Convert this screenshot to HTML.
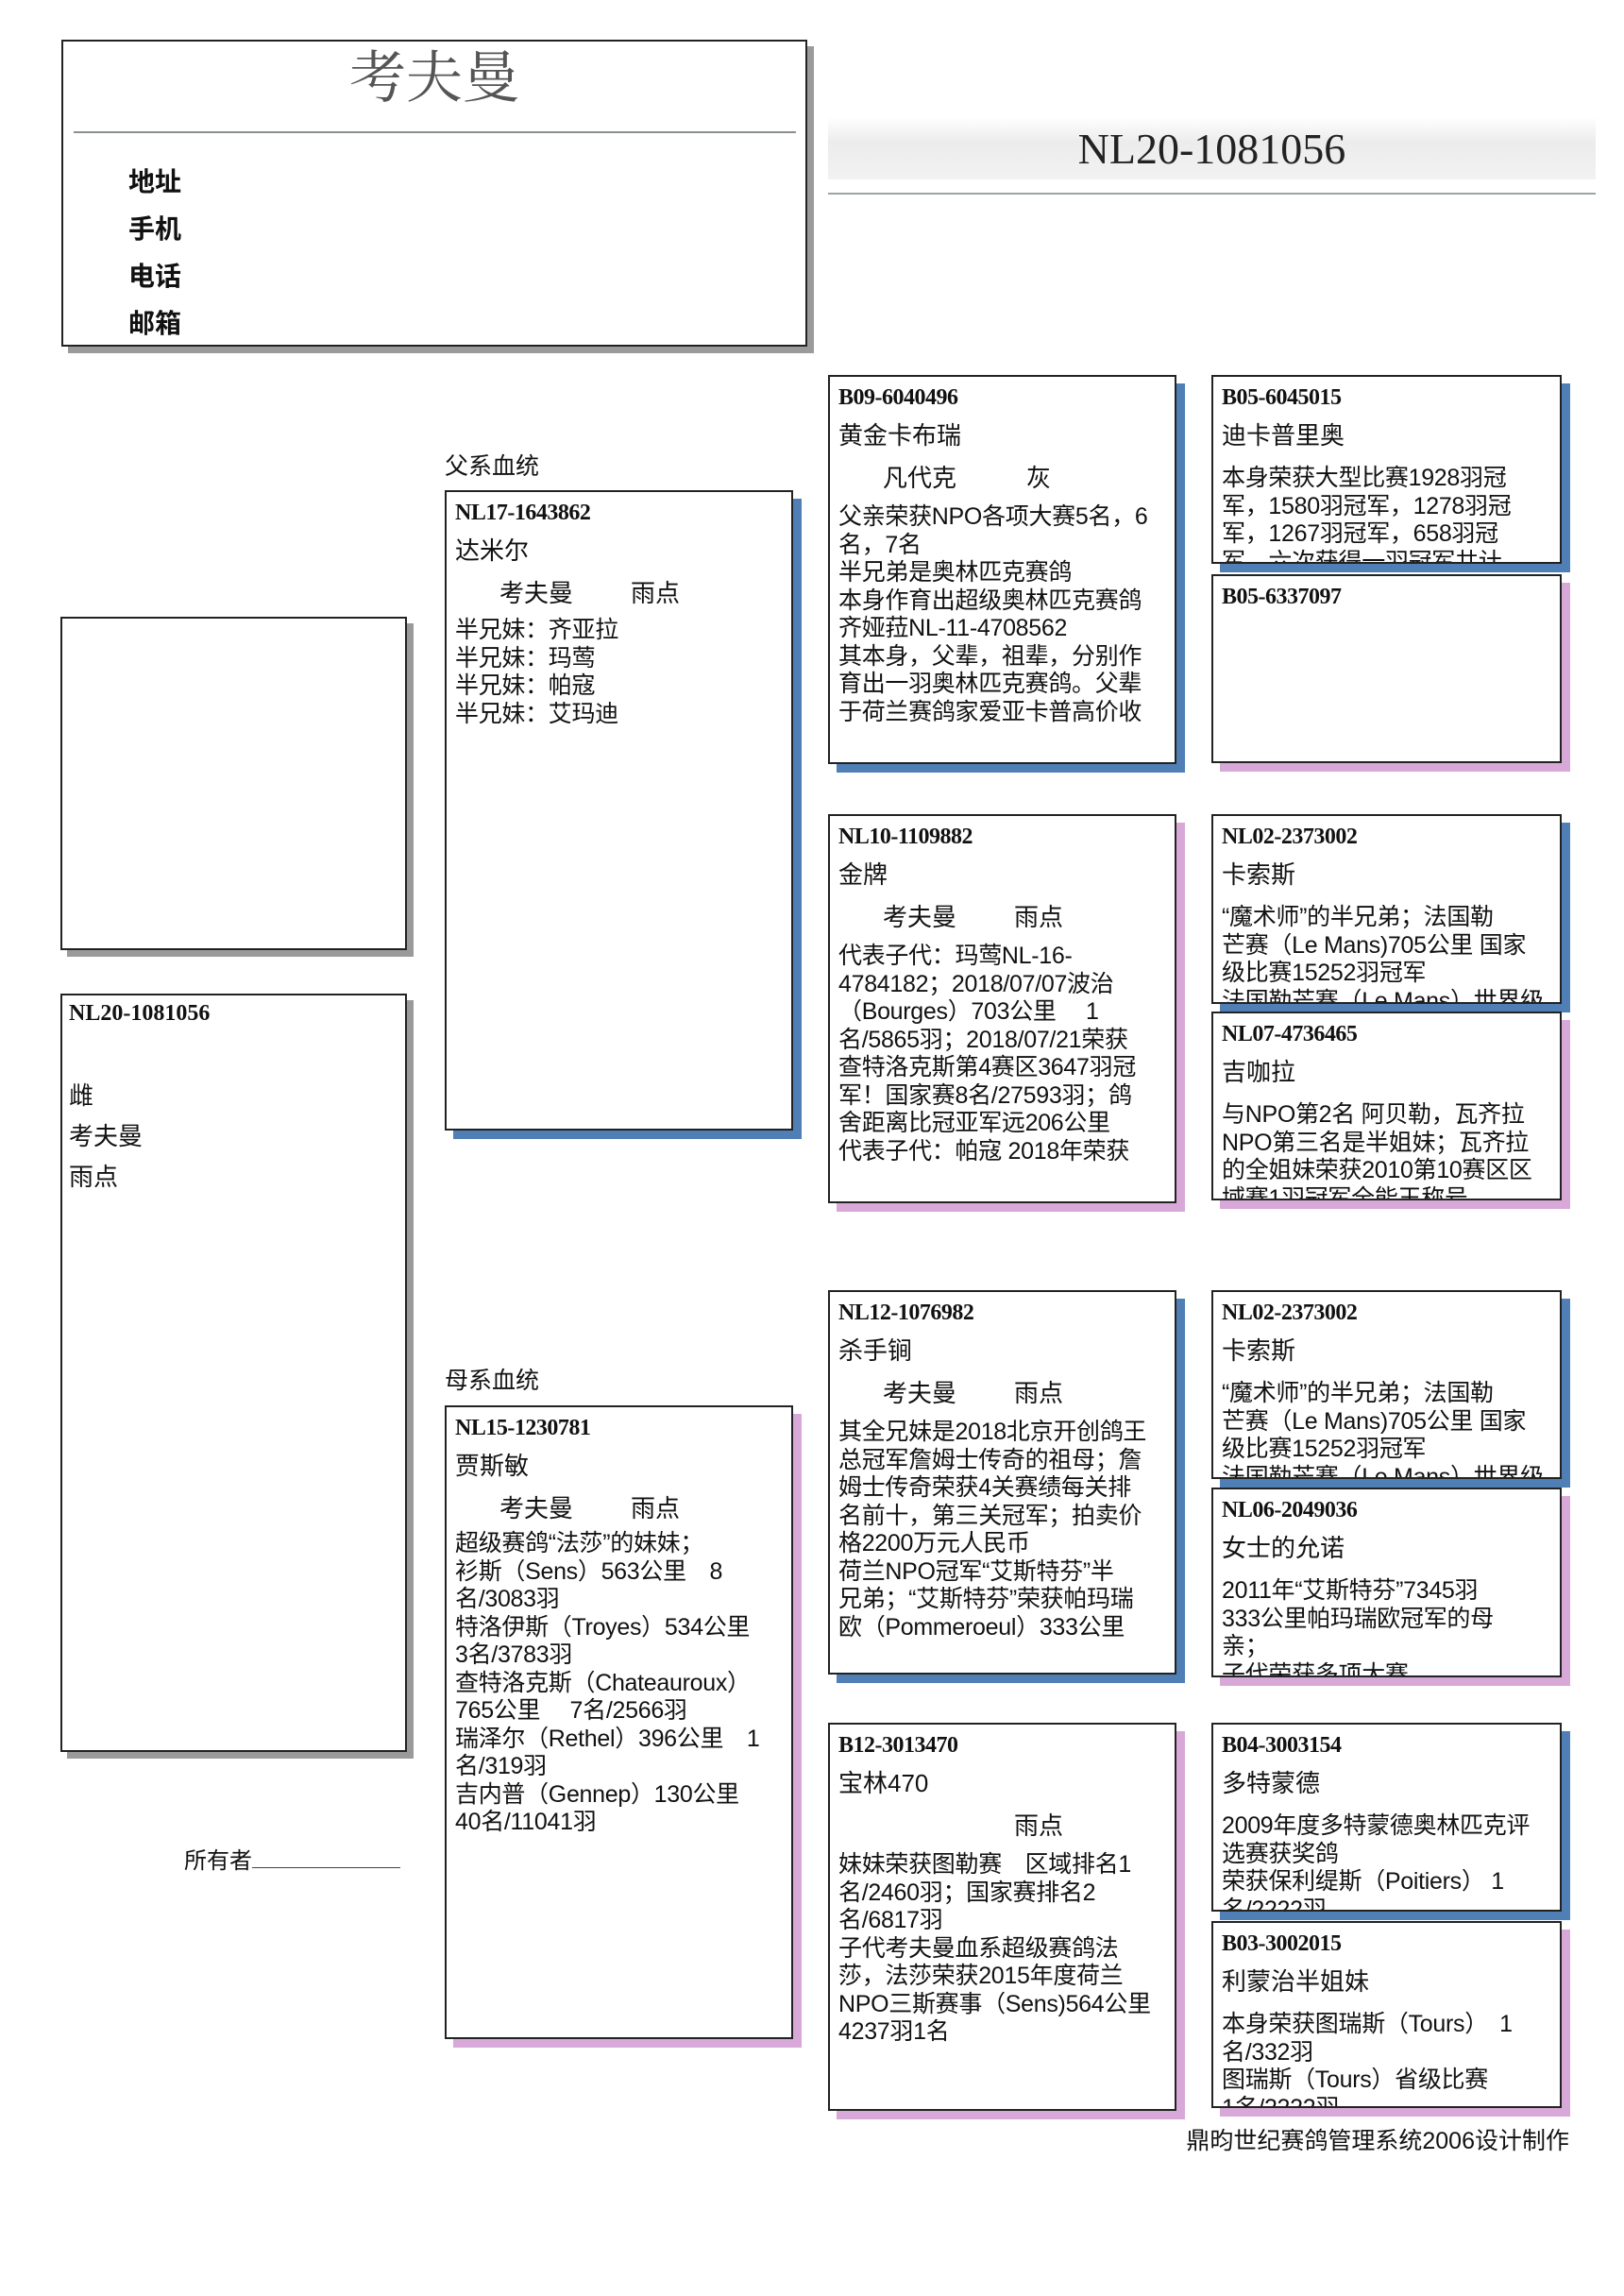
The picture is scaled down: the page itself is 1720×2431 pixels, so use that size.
<!DOCTYPE html>
<html><head><meta charset="utf-8">
<style>
*{margin:0;padding:0;box-sizing:border-box}
html,body{width:1720px;height:2431px;background:#fff;overflow:hidden}
body{position:relative;font-family:"Liberation Sans","Noto Sans CJK SC",sans-serif;color:#111}
.a{position:absolute}
.b{position:absolute;border:2px solid #222;background:#fff;overflow:hidden;padding:0 9px}
.bl{box-shadow:9px 9px 0 #4f7fb5}
.pk{box-shadow:9px 9px 0 #d8a8d8}
.gr{box-shadow:7px 7px 0 #9a9a9a}
.id{font-family:"Liberation Serif","Noto Serif CJK SC",serif;font-weight:bold;font-size:24px;height:40px;line-height:44px;white-space:nowrap;letter-spacing:-0.5px}
.nm{font-size:26px;line-height:45px;height:45px;white-space:nowrap}
.sd{font-size:26px;line-height:45px;height:45px;white-space:nowrap;position:relative}
.sd span{position:absolute;top:0}
.tx{font-size:25px;line-height:29.5px;white-space:nowrap;letter-spacing:-0.3px}
.g3 .tx{margin-top:4px}
.g4 .tx{margin-top:8px}
</style></head><body>

<!-- header -->
<div class="a gr" style="left:65px;top:42px;width:790px;height:325px;border:2px solid #222;background:#fff"></div>
<div class="a" style="left:65px;top:48px;width:790px;text-align:center;font-family:'Liberation Serif','Noto Serif CJK SC',serif;font-size:60px;line-height:70px;color:#555">考夫曼</div>
<div class="a" style="left:78px;top:139px;width:765px;height:2px;background:#8a9090"></div>
<div class="a" style="left:136px;top:168px;font-size:28px;font-weight:bold;line-height:50px">地址<br>手机<br>电话<br>邮箱</div>

<div class="a" style="left:877px;top:124px;width:813px;height:66px;background:linear-gradient(#fff,#ececec 40%,#f2f2f2)"></div>
<div class="a" style="left:877px;top:128px;width:813px;text-align:center;font-family:'Liberation Serif',serif;font-size:46px;line-height:60px;color:#222">NL20-1081056</div>
<div class="a" style="left:877px;top:204px;width:813px;height:2px;background:#9aa6a6"></div>

<!-- left -->
<div class="a gr" style="left:64px;top:653px;width:367px;height:353px;border:2px solid #222;background:#fff"></div>
<div class="a gr" style="left:64px;top:1052px;width:367px;height:803px;border:2px solid #222;background:#fff"></div>
<div class="a" style="left:73px;top:1056px;font-family:'Liberation Serif',serif;font-weight:bold;font-size:24px;line-height:34px">NL20-1081056</div>
<div class="a" style="left:73px;top:1139px;font-size:26px;line-height:43px">雌<br>考夫曼<br>雨点</div>
<div class="a" style="left:195px;top:1954px;font-size:24px;line-height:34px;white-space:nowrap">所有者<span style="display:inline-block;width:157px;border-bottom:1.5px solid #444;height:24px;vertical-align:baseline"></span></div>

<!-- gen2 -->
<div class="a" style="left:471px;top:478px;font-size:25px;line-height:32px">父系血统</div>
<div class="b bl" style="left:471px;top:519px;width:369px;height:678px">
<div class="id">NL17-1643862</div><div class="nm">达米尔</div>
<div class="sd"><span style="left:47px">考夫曼</span><span style="left:186px">雨点</span></div>
<div class="tx" style="margin-top:2px">半兄妹：齐亚拉<br>半兄妹：玛莺<br>半兄妹：帕寇<br>半兄妹：艾玛迪</div></div>

<div class="a" style="left:471px;top:1446px;font-size:25px;line-height:32px">母系血统</div>
<div class="b pk" style="left:471px;top:1488px;width:369px;height:671px">
<div class="id">NL15-1230781</div><div class="nm">贾斯敏</div>
<div class="sd"><span style="left:47px">考夫曼</span><span style="left:186px">雨点</span></div>
<div class="tx" style="margin-top:0">超级赛鸽“法莎”的妹妹；<br>衫斯（Sens）563公里　8<br>名/3083羽<br>特洛伊斯（Troyes）534公里<br>3名/3783羽<br>查特洛克斯（Chateauroux）<br>765公里　 7名/2566羽<br>瑞泽尔（Rethel）396公里　1<br>名/319羽<br>吉内普（Gennep）130公里<br>40名/11041羽</div></div>

<!-- gen3 -->
<div class="b bl g3" style="left:877px;top:397px;width:369px;height:412px">
<div class="id">B09-6040496</div><div class="nm">黄金卡布瑞</div>
<div class="sd"><span style="left:47px">凡代克</span><span style="left:199px">灰</span></div>
<div class="tx">父亲荣获NPO各项大赛5名，6<br>名，7名<br>半兄弟是奥林匹克赛鸽<br>本身作育出超级奥林匹克赛鸽<br>齐娅菈NL-11-4708562<br>其本身，父辈，祖辈，分别作<br>育出一羽奥林匹克赛鸽。父辈<br>于荷兰赛鸽家爱亚卡普高价收</div></div>

<div class="b pk g3" style="left:877px;top:862px;width:369px;height:412px">
<div class="id">NL10-1109882</div><div class="nm">金牌</div>
<div class="sd"><span style="left:47px">考夫曼</span><span style="left:186px">雨点</span></div>
<div class="tx">代表子代：玛莺NL-16-<br>4784182；2018/07/07波治<br>（Bourges）703公里　 1<br>名/5865羽；2018/07/21荣获<br>查特洛克斯第4赛区3647羽冠<br>军！国家赛8名/27593羽；鸽<br>舍距离比冠亚军远206公里<br>代表子代：帕寇 2018年荣获</div></div>

<div class="b bl g3" style="left:877px;top:1366px;width:369px;height:407px">
<div class="id">NL12-1076982</div><div class="nm">杀手锏</div>
<div class="sd"><span style="left:47px">考夫曼</span><span style="left:186px">雨点</span></div>
<div class="tx">其全兄妹是2018北京开创鸽王<br>总冠军詹姆士传奇的祖母；詹<br>姆士传奇荣获4关赛绩每关排<br>名前十，第三关冠军；拍卖价<br>格2200万元人民币<br>荷兰NPO冠军“艾斯特芬”半<br>兄弟；“艾斯特芬”荣获帕玛瑞<br>欧（Pommeroeul）333公里</div></div>

<div class="b pk g3" style="left:877px;top:1824px;width:369px;height:411px">
<div class="id">B12-3013470</div><div class="nm">宝林470</div>
<div class="sd"><span style="left:186px">雨点</span></div>
<div class="tx">妹妹荣获图勒赛　区域排名1<br>名/2460羽；国家赛排名2<br>名/6817羽<br>子代考夫曼血系超级赛鸽法<br>莎，法莎荣获2015年度荷兰<br>NPO三斯赛事（Sens)564公里<br>4237羽1名</div></div>

<!-- gen4 -->
<div class="b bl g4" style="left:1283px;top:397px;width:371px;height:200px">
<div class="id">B05-6045015</div><div class="nm">迪卡普里奥</div>
<div class="tx">本身荣获大型比赛1928羽冠<br>军，1580羽冠军，1278羽冠<br>军，1267羽冠军，658羽冠<br>军，六次获得一羽冠军共计</div></div>
<div class="b pk g4" style="left:1283px;top:608px;width:371px;height:200px">
<div class="id">B05-6337097</div></div>

<div class="b bl g4" style="left:1283px;top:862px;width:371px;height:201px">
<div class="id">NL02-2373002</div><div class="nm">卡索斯</div>
<div class="tx">“魔术师”的半兄弟；法国勒<br>芒赛（Le Mans)705公里 国家<br>级比赛15252羽冠军<br>法国勒芒赛（Le Mans）世界级</div></div>
<div class="b pk g4" style="left:1283px;top:1071px;width:371px;height:200px">
<div class="id">NL07-4736465</div><div class="nm">吉咖拉</div>
<div class="tx">与NPO第2名 阿贝勒，瓦齐拉<br>NPO第三名是半姐妹；瓦齐拉<br>的全姐妹荣获2010第10赛区区<br>域赛1羽冠军全能王称号</div></div>

<div class="b bl g4" style="left:1283px;top:1366px;width:371px;height:200px">
<div class="id">NL02-2373002</div><div class="nm">卡索斯</div>
<div class="tx">“魔术师”的半兄弟；法国勒<br>芒赛（Le Mans)705公里 国家<br>级比赛15252羽冠军<br>法国勒芒赛（Le Mans）世界级</div></div>
<div class="b pk g4" style="left:1283px;top:1575px;width:371px;height:201px">
<div class="id">NL06-2049036</div><div class="nm">女士的允诺</div>
<div class="tx">2011年“艾斯特芬”7345羽<br>333公里帕玛瑞欧冠军的母<br>亲；<br>子代荣获多项大赛</div></div>

<div class="b bl g4" style="left:1283px;top:1824px;width:371px;height:200px">
<div class="id">B04-3003154</div><div class="nm">多特蒙德</div>
<div class="tx">2009年度多特蒙德奥林匹克评<br>选赛获奖鸽<br>荣获保利缇斯（Poitiers） 1<br>名/2222羽</div></div>
<div class="b pk g4" style="left:1283px;top:2034px;width:371px;height:198px">
<div class="id">B03-3002015</div><div class="nm">利蒙治半姐妹</div>
<div class="tx">本身荣获图瑞斯（Tours）　1<br>名/332羽<br>图瑞斯（Tours）省级比赛<br>1名/2222羽</div></div>

<div class="a" style="left:1200px;top:2250px;width:462px;text-align:right;font-size:25px;line-height:34px;white-space:nowrap">鼎昀世纪赛鸽管理系统2006设计制作</div>
</body></html>
